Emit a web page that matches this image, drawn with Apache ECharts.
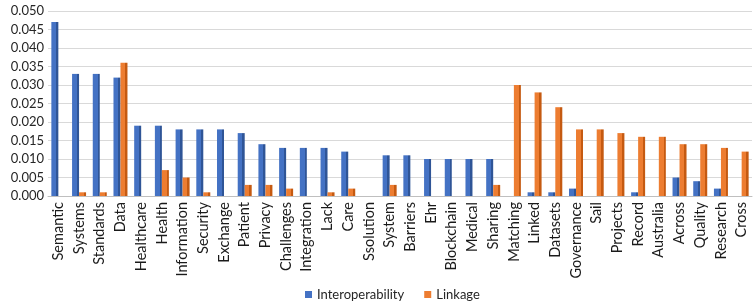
<!DOCTYPE html>
<html><head><meta charset="utf-8">
<script src="https://cdn.jsdelivr.net/npm/echarts@6/dist/echarts.min.js"></script>
<style>html,body{margin:0;padding:0;background:#fff}#c{width:755px;height:308px}</style>
</head><body><div id="c"></div>
<script>
const categories = ["Semantic","Systems","Standards","Data","Healthcare","Health","Information","Security","Exchange","Patient","Privacy","Challenges","Integration","Lack","Care","Ssolution","System","Barriers","Ehr","Blockchain","Medical","Sharing","Matching","Linked","Datasets","Governance","Sail","Projects","Record","Australia","Across","Quality","Research","Cross"];
const interoperability = [0.047,0.033,0.033,0.032,0.019,0.019,0.018,0.018,0.018,0.017,0.014,0.013,0.013,0.013,0.012,0,0.011,0.011,0.010,0.010,0.010,0.010,0,0.001,0.001,0.002,0,0,0.001,0,0.005,0.004,0.002,0];
const linkage = [0,0.001,0.001,0.036,0,0.007,0.005,0.001,0,0.003,0.003,0.002,0,0.001,0.002,0,0.003,0,0,0,0,0.003,0.030,0.028,0.024,0.018,0.018,0.017,0.016,0.016,0.014,0.014,0.013,0.012];
const seriesNames = ["Interoperability","Linkage"];
const yTicks = {min:0, max:0.05, interval:0.005};

function grad(face, side){
  return new echarts.graphic.LinearGradient(0,0,1,0,[
    {offset:0,color:face},{offset:0.68,color:face},{offset:0.68,color:side},{offset:1,color:side}
  ]);
}
const font = "Lato, 'Noto Sans', sans-serif";
const chart = echarts.init(document.getElementById('c'));
chart.setOption({
  animation:false,
  textStyle:{fontFamily:font},
  grid:{left:48,right:3,top:11,bottom:112},
  legend:{bottom:2,left:300,itemWidth:7,itemHeight:7,itemGap:20,icon:'rect',
    textStyle:{fontSize:13,color:'#262626',fontFamily:font},
    data:[{name:seriesNames[0],itemStyle:{color:'#4472C4'}},{name:seriesNames[1],itemStyle:{color:'#ED7D31'}}]},
  xAxis:{type:'category',data:categories,
    axisLine:{lineStyle:{color:'#bfbfbf'}},axisTick:{show:false},
    axisLabel:{rotate:90,interval:0,fontSize:14.5,color:'#1a1a1a',margin:6,fontFamily:font}},
  yAxis:{type:'value',min:yTicks.min,max:yTicks.max,interval:yTicks.interval,
    axisLine:{show:false},axisTick:{show:false},
    splitLine:{lineStyle:{color:'#d9d9d9',width:1}},
    axisLabel:{fontSize:13,color:'#262626',margin:4,fontFamily:font,formatter:v=>v.toFixed(3)}},
  series:[
    {name:seriesNames[0],type:'bar',data:interoperability,barWidth:7,barGap:'0%',
      itemStyle:{color:grad('#4472C4','#2F5597')}},
    {name:seriesNames[1],type:'bar',data:linkage,barWidth:7,barGap:'0%',
      itemStyle:{color:grad('#ED7D31','#C55A11')}}
  ]
});
</script></body></html>
